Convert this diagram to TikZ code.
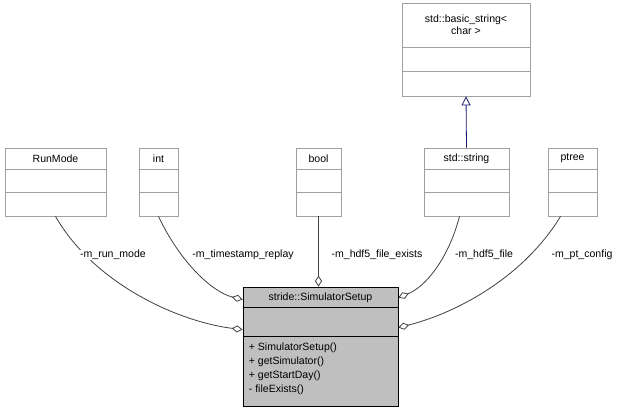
\documentclass[tikz,border=0pt]{standalone}
\usepackage{fontspec}
\setmainfont{Liberation Sans}
\usetikzlibrary{arrows.meta,calc}
\definecolor{boxgray}{HTML}{A0A0A0}
\definecolor{maingray}{HTML}{BFBFBF}
\definecolor{edgegray}{HTML}{404040}
\definecolor{inhblue}{HTML}{191970}
\tikzset{
  cls/.style={draw=boxgray,fill=white,inner sep=0pt,line width=0.6pt},
  ttl/.style={inner sep=0pt,align=center,font=\fontsize{7.9}{9}\selectfont},
  lbl/.style={inner sep=0pt,fill=white,font=\fontsize{7.9}{9}\selectfont},
  agg/.style={draw=edgegray,line width=0.6pt,-{Diamond[open,length=11pt*0.75,width=7pt*0.75]}},
  inh/.style={draw=inhblue,line width=0.6pt,-{Triangle[open,length=9pt*0.75,width=9pt*0.75]}}
}
\begin{document}
\begin{tikzpicture}[x=0.75pt,y=-0.75pt]
  \useasboundingbox (0,0) rectangle (627,413);
  % member classes
  \node[cls,minimum width=101*0.75pt,minimum height=68*0.75pt] (runmode) at (55.5,182) {};
  \node[cls,minimum width=39*0.75pt,minimum height=68*0.75pt] (int) at (158.5,182) {};
  \node[cls,minimum width=45*0.75pt,minimum height=68*0.75pt] (bool) at (318.5,182) {};
  \node[cls,minimum width=85*0.75pt,minimum height=68*0.75pt] (string) at (466.5,182) {};
  \node[cls,minimum width=49*0.75pt,minimum height=68*0.75pt] (ptree) at (572.5,182) {};
  \foreach \n/\t in {runmode/RunMode,int/int,bool/bool,string/std::string,ptree/ptree}{
    \node[ttl] at ($(\n.north)+(0,11)$) {\t};
    \draw[boxgray,line width=0.6pt] ($(\n.north west)+(0,22)$) -- ($(\n.north east)+(0,22)$);
    \draw[boxgray,line width=0.6pt] ($(\n.north west)+(0,45)$) -- ($(\n.north east)+(0,45)$);
  }
  % base class
  \node[cls,minimum width=128*0.75pt,minimum height=93*0.75pt] (basic) at (466,49.5) {};
  \node[ttl] at ($(basic.north)+(0,22)$) {std::basic\_string<\\char >};
  \draw[boxgray,line width=0.6pt] ($(basic.north west)+(0,45)$) -- ($(basic.north east)+(0,45)$);
  \draw[boxgray,line width=0.6pt] ($(basic.north west)+(0,69)$) -- ($(basic.north east)+(0,69)$);
  % main class
  \node[draw=black,fill=maingray,inner sep=0pt,line width=0.6pt,
        minimum width=155*0.75pt,minimum height=119*0.75pt] (main) at (320.5,346.5) {};
  \node[ttl] at ($(main.north)+(0,11)$) {stride::SimulatorSetup};
  \draw[line width=0.6pt] ($(main.north west)+(0,21)$) -- ($(main.north east)+(0,21)$);
  \draw[line width=0.6pt] ($(main.north west)+(0,50)$) -- ($(main.north east)+(0,50)$);
  \node[ttl,align=left,anchor=north west,font=\fontsize{7.9}{10.4}\selectfont]
    (ops) at ($(main.north west)+(6,56)$)
    {+ SimulatorSetup()\\+ getSimulator()\\+ getStartDay()\\- fileExists()};
  % connectors
  \draw[inh] (string.north) -- (basic.south);
  \draw[agg] (runmode.south) .. controls (95,285) and (180,322) .. ($(main.north west)+(0,43)$);
  \draw[agg] (int.south) .. controls (180,262) and (212,292) .. ($(main.north west)+(0,13)$);
  \draw[agg] (bool.south) -- (main.north-|bool.south);
  \draw[agg] ($(string.south)+(-7,0)$) .. controls (448,260) and (425,287) .. ($(main.north east)+(0,11)$);
  \draw[agg] ($(ptree.south)+(-12,0)$) .. controls (525,275) and (460,312) .. ($(main.north east)+(0,41)$);
  % labels
  \node[lbl] (l1) at (113,255) {-m\_run\_mode};
  \node[lbl] (l2) at (243,255) {-m\_timestamp\_replay};
  \node[lbl] (l3) at (377,255) {-m\_hdf5\_file\_exists};
  \node[lbl] (l4) at (484,255) {-m\_hdf5\_file};
  \node[lbl] (l5) at (582,255) {-m\_pt\_config};
\end{tikzpicture}
\end{document}
